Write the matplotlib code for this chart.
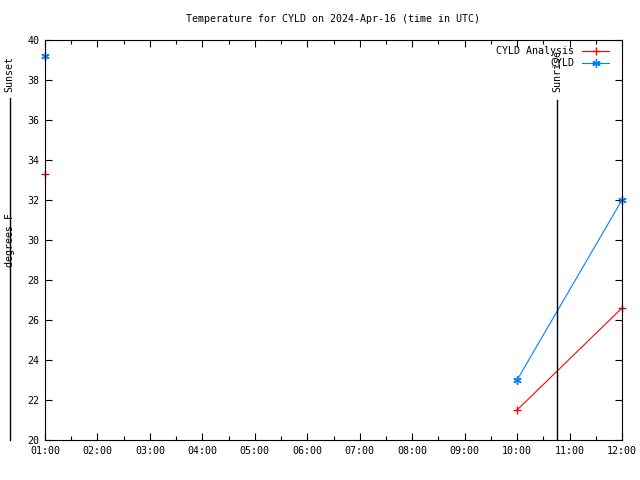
import numpy as np
import matplotlib
matplotlib.use("Agg")
from matplotlib import pyplot as plt
from matplotlib.ticker import FuncFormatter, MultipleLocator

# hours UTC, nan = missing observation (breaks the line)
hours = [1, 9, 10, 12]
analysis = [33.3, np.nan, 21.5, 26.6]
station = [39.2, np.nan, 23.0, 32.0]
sunrise = 10.77
sunset = 0.33

title = "Temperature for CYLD on 2024-Apr-16 (time in UTC)"

plt.rcParams['font.family'] = 'DejaVu Sans Mono'
plt.rcParams['font.size'] = 7.2

fig = plt.figure(figsize=(6.4, 4.8), dpi=100)
ax = fig.add_axes([45 / 640, 40 / 480, 577 / 640, 400 / 480])

ax.plot(hours, analysis, color='#ff0000', lw=0.8, marker='+', ms=6, mew=1,
        label='CYLD Analysis', clip_on=False)
ax.plot(hours, station, color='#0080ff', lw=0.8, marker=(6, 2, 0), ms=6, mew=1,
        label='CYLD', clip_on=False)

ax.set_xlim(1, 12)
ax.set_ylim(20, 40)
ax.xaxis.set_major_locator(MultipleLocator(1))
ax.xaxis.set_minor_locator(MultipleLocator(0.5))
ax.yaxis.set_major_locator(MultipleLocator(2))
ax.xaxis.set_major_formatter(FuncFormatter(lambda v, p: "%02d:00" % int(round(v))))
ax.tick_params(which='both', direction='in', top=True, right=True, width=0.8)
ax.tick_params(which='major', length=5, pad=4)
ax.tick_params(which='minor', length=3)
for s in ax.spines.values():
    s.set_linewidth(0.8)

# sunrise line inside the plot
ax.plot([sunrise, sunrise], [20, 37], color='black', lw=1)
ax.text(sunrise, 37.4, 'Sunrise', rotation=90, ha='center', va='bottom')

# sunset line falls left of the axes
ax.plot([sunset, sunset], [20, 37.1], color='black', lw=1, clip_on=False)
ax.text(sunset, 37.4, 'Sunset', rotation=90, ha='center', va='bottom')

fig.text(10 / 640, 1 - 240 / 480, 'degrees F', rotation=90, ha='center', va='center')

ax.set_title(title, fontsize=7.2, pad=13)

ax.legend(loc='upper right', bbox_to_anchor=((609 - 45) / 577, 0.984),
          frameon=False, markerfirst=False, handlelength=2.7,
          labelspacing=0.2, borderaxespad=0, borderpad=0,
          handletextpad=0.8, numpoints=1)

fig.savefig('out.png', dpi=100)
